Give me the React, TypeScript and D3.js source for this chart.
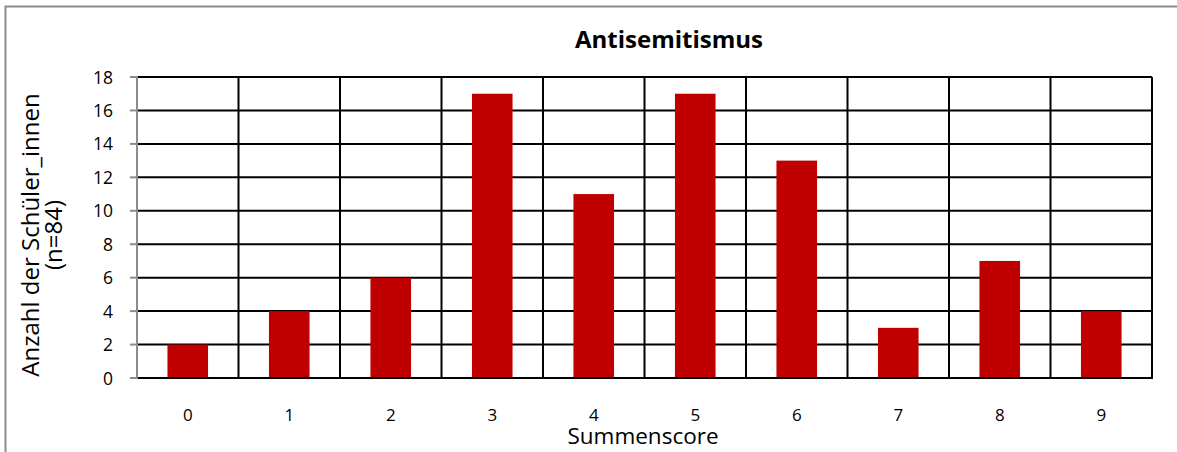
import React from "react";
import * as d3 from "d3";

const categories = ["0", "1", "2", "3", "4", "5", "6", "7", "8", "9"];
const counts = [2, 4, 6, 17, 11, 17, 13, 3, 7, 4];
const yTicks = [0, 2, 4, 6, 8, 10, 12, 14, 16, 18];
const title = "Antisemitismus";
const xTitle = "Summenscore";
const yTitleLines = ["Anzahl der Schüler_innen", "(n=84)"];

const W = 1177;
const H = 452;
const left = 137;
const right = 1152;
const top = 77;
const bottom = 378;
const font = "'Open Sans', sans-serif";

export default function App() {
  const x = d3.scaleBand<string>().domain(categories).range([left, right]).padding(0);
  const y = d3.scaleLinear().domain([0, 18]).range([bottom, top]);
  const bw = x.bandwidth() * 0.4;

  return (
    <svg width={W} height={H} style={{ position: "absolute", left: 0, top: 0 }}>
      <rect x={0} y={0} width={W} height={H} fill="#fff" />
      <path d={`M5.5,${H + 2} V6.5 H${W + 2}`} fill="none" stroke="#8c8c8c" strokeWidth={2} />
      {yTicks.filter((t) => t > 0).map((t) => (
        <line key={"h" + t} x1={left} x2={right} y1={y(t)} y2={y(t)} stroke="#000" strokeWidth={2} />
      ))}
      {categories.map((c) => (
        <line key={"v" + c} x1={(x(c) as number) + x.bandwidth()} x2={(x(c) as number) + x.bandwidth()} y1={top} y2={bottom} stroke="#000" strokeWidth={2} />
      ))}
      {categories.map((c, i) => (
        <rect
          key={"b" + c}
          x={(x(c) as number) + (x.bandwidth() - bw) / 2}
          y={y(counts[i])}
          width={bw}
          height={bottom - y(counts[i])}
          fill="#C00000"
        />
      ))}
      <line x1={left} x2={right + 1} y1={bottom} y2={bottom} stroke="#000" strokeWidth={2} />
      <line x1={left} x2={left} y1={top - 1} y2={bottom + 1} stroke="#8c8c8c" strokeWidth={2} />
      {yTicks.map((t) => (
        <g key={"t" + t}>
          <line x1={left - 7} x2={left} y1={y(t)} y2={y(t)} stroke="#8c8c8c" strokeWidth={2} />
          <text x={113} y={y(t) + 6.5} textAnchor="end" fontFamily={font} fontSize={17.5} fill="#000">
            {t}
          </text>
        </g>
      ))}
      {categories.map((c) => (
        <text key={"xl" + c} x={(x(c) as number) + x.bandwidth() / 2} y={421} textAnchor="middle" fontFamily={font} fontSize={17} fill="#000">
          {c}
        </text>
      ))}
      <text x={669} y={48} textAnchor="middle" fontFamily={font} fontSize={24} fontWeight="bold" fill="#000">
        {title}
      </text>
      <text x={643} y={444} textAnchor="middle" fontFamily={font} fontSize={22.5} fill="#000">
        {xTitle}
      </text>
      <text transform="translate(39,235) rotate(-90)" textAnchor="middle" fontFamily={font} fontSize={24} fill="#000">
        {yTitleLines[0]}
      </text>
      <text transform="translate(62,235) rotate(-90)" textAnchor="middle" fontFamily={font} fontSize={24} fill="#000">
        {yTitleLines[1]}
      </text>
    </svg>
  );
}
